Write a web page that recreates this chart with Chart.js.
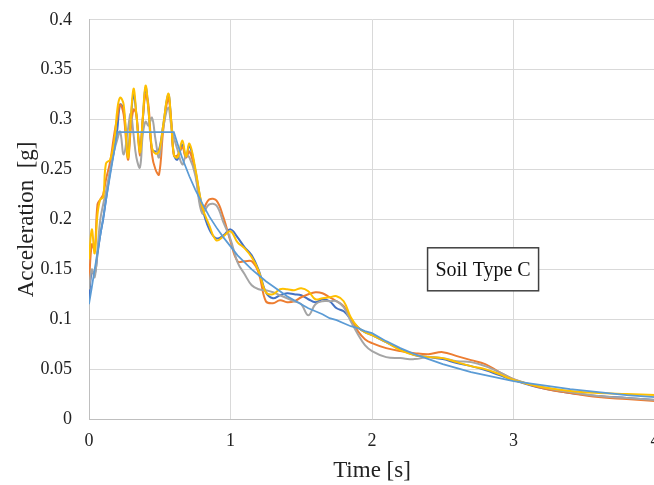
<!DOCTYPE html>
<html>
<head>
<meta charset="utf-8">
<script src="https://cdn.jsdelivr.net/npm/chart.js@4.4.1/dist/chart.umd.min.js"></script>
<style>
  html, body { margin: 0; padding: 0; background: #fff; overflow: hidden; }
  #wrap { width: 654px; height: 485px; overflow: hidden; }
  #myChart { display: block; margin-top: -8px; }
</style>
</head>
<body>
<div id="wrap"><canvas id="myChart" width="690" height="493"></canvas></div>
<script>
// periods [s]
var periods = [
  0, 0.02, 0.04, 0.06, 0.08, 0.1, 0.12, 0.15, 0.18, 0.2,
  0.22, 0.245, 0.275, 0.295, 0.315, 0.335, 0.36, 0.38, 0.4, 0.42, 0.445, 0.47, 0.495, 0.525, 0.56, 0.58, 0.6, 0.625, 0.66, 0.685, 0.71, 0.75, 0.8,
  0.85, 0.9, 0.95, 1.0, 1.05, 1.1, 1.15, 1.2, 1.25, 1.3, 1.35, 1.4, 1.45, 1.5, 1.55, 1.6, 1.65, 1.7, 1.75, 1.8, 1.85, 1.9, 1.95, 2.0,
  2.1, 2.2, 2.3, 2.4, 2.5, 2.6, 2.7, 2.8, 2.9, 3.0, 3.2, 3.4, 3.6, 3.8, 4.0
];

// spectral accelerations [g]
var record1 = [
  0.12, 0.148, 0.145, 0.165, 0.185, 0.2, 0.22, 0.248, 0.272, 0.29,
  0.315, 0.31, 0.265, 0.3, 0.325, 0.305, 0.27, 0.3, 0.332, 0.31, 0.27, 0.268, 0.27, 0.295, 0.325, 0.3, 0.265, 0.26, 0.275, 0.262, 0.274, 0.25, 0.212,
  0.19, 0.181, 0.184, 0.19, 0.182, 0.172, 0.164, 0.149, 0.127, 0.121, 0.124, 0.126, 0.125, 0.124, 0.12, 0.117, 0.12, 0.118, 0.111, 0.108, 0.1, 0.092, 0.087, 0.084,
  0.077, 0.07, 0.064, 0.062, 0.06, 0.056, 0.053, 0.049, 0.044, 0.039, 0.031, 0.026, 0.023, 0.021, 0.019
];
var record2 = [
  0.135, 0.175, 0.17, 0.215, 0.22, 0.225, 0.24, 0.258, 0.287, 0.302,
  0.315, 0.305, 0.26, 0.29, 0.31, 0.305, 0.264, 0.3, 0.325, 0.315, 0.265, 0.25, 0.245, 0.29, 0.321, 0.3, 0.264, 0.264, 0.272, 0.262, 0.268, 0.248, 0.21,
  0.22, 0.219, 0.202, 0.178, 0.158, 0.158, 0.158, 0.146, 0.118, 0.116, 0.119, 0.117, 0.118, 0.122, 0.125, 0.127, 0.126, 0.122, 0.118, 0.113, 0.1, 0.088, 0.08, 0.076,
  0.071, 0.068, 0.066, 0.065, 0.067, 0.063, 0.059, 0.055, 0.047, 0.04, 0.031, 0.026, 0.022, 0.02, 0.018
];
var record3 = [
  0.13, 0.15, 0.142, 0.17, 0.2, 0.215, 0.228, 0.25, 0.27, 0.28,
  0.288, 0.265, 0.29, 0.306, 0.285, 0.262, 0.252, 0.285, 0.298, 0.294, 0.302, 0.28, 0.262, 0.292, 0.312, 0.295, 0.282, 0.27, 0.255, 0.264, 0.262, 0.245, 0.206,
  0.215, 0.214, 0.197, 0.18, 0.157, 0.145, 0.134, 0.13, 0.129, 0.127, 0.124, 0.121, 0.118, 0.115, 0.104, 0.115, 0.118, 0.118, 0.118, 0.112, 0.098, 0.085, 0.074, 0.068,
  0.062, 0.061, 0.06, 0.062, 0.061, 0.058, 0.057, 0.053, 0.047, 0.04, 0.032, 0.027, 0.023, 0.021, 0.019
];
var record4 = [
  0.16, 0.19, 0.166, 0.205, 0.22, 0.222, 0.256, 0.26, 0.28, 0.31,
  0.322, 0.315, 0.262, 0.3, 0.331, 0.305, 0.267, 0.302, 0.334, 0.31, 0.272, 0.266, 0.268, 0.295, 0.326, 0.3, 0.265, 0.262, 0.279, 0.263, 0.276, 0.252, 0.213,
  0.194, 0.179, 0.183, 0.188, 0.177, 0.171, 0.162, 0.148, 0.127, 0.125, 0.13, 0.13, 0.129, 0.131, 0.128, 0.12, 0.121, 0.122, 0.123, 0.118, 0.102, 0.092, 0.087, 0.084,
  0.077, 0.069, 0.064, 0.062, 0.061, 0.057, 0.053, 0.05, 0.045, 0.039, 0.032, 0.028, 0.026, 0.025, 0.024
];
var codeSpectrum = [
  0.115, 0.132, 0.150, 0.167, 0.184, 0.201, 0.219, 0.245, 0.270, 0.2875,
  0.2875, 0.2875, 0.2875, 0.2875, 0.2875, 0.2875, 0.2875, 0.2875, 0.2875, 0.2875, 0.2875, 0.2875, 0.2875, 0.2875, 0.2875, 0.2875, 0.2875, 0.276, 0.261, 0.252, 0.243, 0.230, 0.216,
  0.203, 0.192, 0.182, 0.173, 0.164, 0.157, 0.150, 0.144, 0.138, 0.133, 0.128, 0.123, 0.119, 0.115, 0.111, 0.108, 0.105, 0.101, 0.099, 0.096, 0.093, 0.091, 0.088, 0.086,
  0.078, 0.071, 0.065, 0.060, 0.055, 0.051, 0.047, 0.044, 0.041, 0.038, 0.034, 0.030, 0.027, 0.024, 0.022
];

var xTickLabels = ['0', '1', '2', '3', '4'];
var yTickLabels = ['0', '0.05', '0.1', '0.15', '0.2', '0.25', '0.3', '0.35', '0.4'];
var noteText = 'Soil Type C';
var notePos = { x: 2.785, y: 0.15 };

function toPoints(vals) {
  var pts = [];
  for (var i = 0; i < vals.length; i++) {
    pts.push({ x: periods[i], y: vals[i] });
  }
  return pts;
}

function line(data, color, width, tension) {
  return {
    data: toPoints(data),
    borderColor: color,
    backgroundColor: color,
    borderWidth: width,
    pointRadius: 0,
    tension: tension,
    fill: false
  };
}

// text box in the plot, placed through the scales
var noteBox = {
  id: 'noteBox',
  afterDraw: function(chart) {
    var c = chart.ctx;
    var cx = chart.scales.x.getPixelForValue(notePos.x);
    var cy = chart.scales.y.getPixelForValue(notePos.y);
    var w = 111, h = 43;
    c.save();
    c.fillStyle = '#fff';
    c.fillRect(cx - w / 2, cy - h / 2, w, h);
    c.strokeStyle = '#404040';
    c.lineWidth = 1.5;
    c.strokeRect(cx - w / 2, cy - h / 2, w, h);
    c.fillStyle = '#111';
    c.font = '20px "Liberation Serif"';
    c.textAlign = 'center';
    c.textBaseline = 'middle';
    c.fillText(noteText, cx, cy + 1);
    c.restore();
  }
};

var serif = '"Liberation Serif", "Times New Roman", serif';
var ctx = document.getElementById('myChart').getContext('2d');
var myChart = new Chart(ctx, {
  type: 'line',
  data: {
    datasets: [
      line(codeSpectrum, '#5B9BD5', 1.75, 0),
      line(record4, '#FFC000', 2, 0.4),
      line(record3, '#A5A5A5', 2, 0.4),
      line(record2, '#ED7D31', 2, 0.4),
      line(record1, '#4472C4', 2, 0.4)
    ]
  },
  options: {
    responsive: false,
    animation: false,
    layout: { padding: { top: 11, right: 35, left: 0, bottom: 0 } },
    plugins: { legend: { display: false }, tooltip: { enabled: false } },
    scales: {
      x: {
        type: 'linear',
        min: 0,
        max: 4,
        afterFit: function(s) { s.height = 66; },
        ticks: {
          stepSize: 1,
          padding: 11,
          color: '#222',
          font: { family: serif, size: 18 },
          maxRotation: 0,
          callback: function(v, i) { return xTickLabels[i]; }
        },
        grid: { color: '#d9d9d9', lineWidth: 1, drawTicks: false },
        border: { color: '#bfbfbf' },
        title: {
          display: true,
          text: 'Time [s]',
          color: '#222',
          font: { family: serif, size: 23 },
          padding: { top: 2, bottom: 0 }
        }
      },
      y: {
        min: 0,
        max: 0.4,
        afterFit: function(s) { s.width = 89; },
        ticks: {
          stepSize: 0.05,
          padding: 17,
          color: '#222',
          font: { family: serif, size: 18 },
          callback: function(v, i) { return yTickLabels[i]; }
        },
        grid: { color: '#d9d9d9', lineWidth: 1, drawTicks: false },
        border: { color: '#bfbfbf' },
        title: {
          display: true,
          text: 'Acceleration  [g]',
          color: '#222',
          font: { family: serif, size: 23 },
          padding: { top: 13, bottom: 0 }
        }
      }
    }
  },
  plugins: [noteBox]
});
</script>
</body>
</html>
